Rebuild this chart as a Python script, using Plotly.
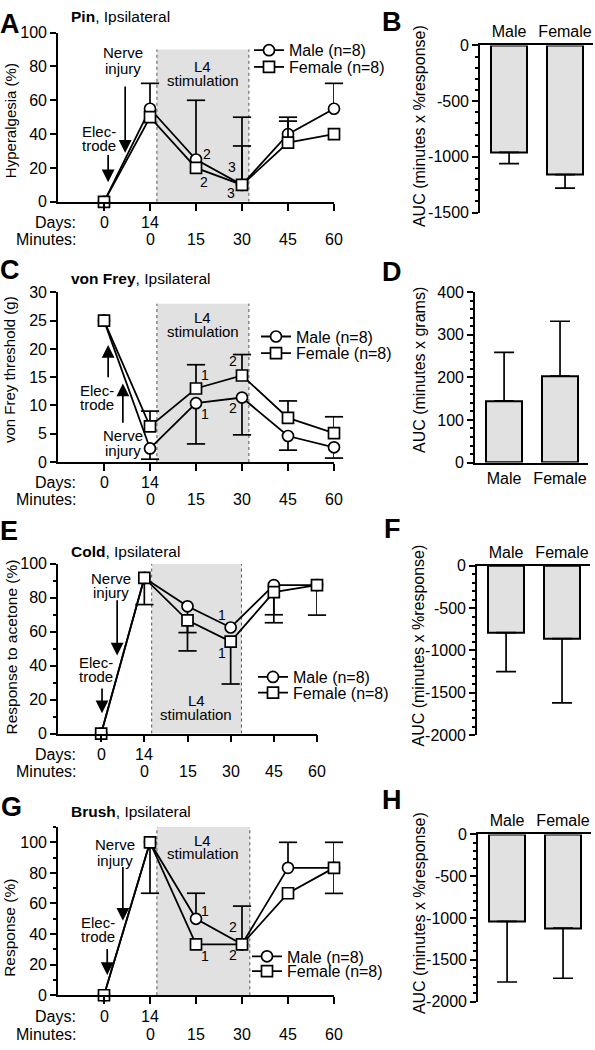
import plotly.graph_objects as go

W, H = 595, 1050
FONT = "Liberation Sans, Arial, Helvetica, sans-serif"

# ---------------- data ----------------
time_idx = [0, 1, 2, 3, 4, 5]          # Day0, Day14/min0, 15, 30, 45, 60 min
day_idx = [0, 1]
day_labels = ["0", "14"]
minute_idx = [1, 2, 3, 4, 5]
minute_labels = ["0", "15", "30", "45", "60"]
sex_labels = ["Male", "Female"]
legend_names = ["Male (n=8)", "Female (n=8)"]

# A  Pin (% hyperalgesia)
pin_male = [0, 55, 25, 10, 40, 55]
pin_male_up = [0, 15, 35, 40, 10, 15]
pin_male_dn = [0, 0, 0, 0, 0, 0]
pin_female = [0, 50, 20, 10, 35, 40]
pin_female_up = [0, 0, 0, 23, 12.7, 0]
pin_female_dn = [0, 0, 0, 0, 0, 0]

# C  von Frey threshold (g)
vf_male = [25, 2.4, 10.4, 11.4, 4.6, 2.6]
vf_male_up = [0, 0, 0, 0, 0, 0]
vf_male_dn = [0, 1.9, 7.2, 6.6, 2.5, 1.9]
vf_female = [25, 6.3, 13.0, 15.3, 7.8, 5.1]
vf_female_up = [0, 2.7, 4.2, 3.7, 3.0, 2.9]
vf_female_dn = [0, 0, 0, 0, 0, 0]

# E  Cold (response to acetone %)
cold_male = [0, 91.7, 75, 62.5, 87.5, 87.5]
cold_male_up = [0, 0, 0, 0, 0, 0]
cold_male_dn = [0, 0, 15.5, 0, 17.5, 0]
cold_female = [0, 91.7, 66.7, 54.2, 83.3, 87.5]
cold_female_up = [0, 0, 0, 0, 0, 0]
cold_female_dn = [0, 15.7, 18, 25, 18, 17.7]

# G  Brush (response %)
brush_male = [0, 100, 50, 33.3, 83.3, 83.3]
brush_male_up = [0, 0, 16.7, 25, 16.7, 16.7]
brush_male_dn = [0, 33.3, 0, 0, 0, 0]
brush_female = [0, 100, 33.3, 33.3, 66.7, 83.3]
brush_female_up = [0, 0, 0, 0, 0, 0]
brush_female_dn = [0, 0, 0, 0, 0, 16.7]

# AUC bars (Male, Female) and one-sided SD
pin_auc = [-960, -1160]
pin_auc_err = [100, 120]
vf_auc = [145, 203]
vf_auc_err = [114, 129]
cold_auc = [-790, -860]
cold_auc_err = [460, 760]
brush_auc = [-1040, -1120]
brush_auc_err = [725, 600]

# y tick labels for AUC panels (hyphen minus as in original)
auc_pin_ticks = [0, -500, -1000, -1500]
auc_pin_ticktext = ["0", "-500", "-1000", "-1500"]
auc_2000_ticks = [0, -500, -1000, -1500, -2000]
auc_2000_ticktext = ["0", "-500", "-1000", "-1500", "-2000"]
auc_vf_ticks = [0, 100, 200, 300, 400]
auc_vf_ticktext = ["0", "100", "200", "300", "400"]

# ---------------- helpers ----------------
fig = go.Figure()


def xdom(a, b):
    return [a / W, b / W]


def ydom(top, bottom):
    return [1 - bottom / H, 1 - top / H]


def py(p):
    return 1 - p / H


def px(p):
    return p / W


def txt(xref, yref, x, y, s, size=15, xanchor="center", yshift=0, angle=0):
    fig.add_annotation(xref=xref, yref=yref, x=x, y=y, text=s, showarrow=False,
                       font=dict(size=size, family=FONT, color="black"),
                       xanchor=xanchor, yanchor="middle", yshift=yshift,
                       textangle=angle, borderpad=0)


def multiline(xref, yref, x, y, lines, gap=15, size=15):
    n = len(lines)
    for k, s in enumerate(lines):
        txt(xref, yref, x, y, s, size=size, yshift=((n - 1) / 2 - k) * gap)


def arrow(xref, yref, x, tip, tail):
    fig.add_annotation(xref=xref, yref=yref, axref=xref, ayref=yref,
                       x=x, y=tip, ax=x, ay=tail, text="", showarrow=True,
                       arrowhead=2, arrowsize=1.5, arrowwidth=1.7,
                       arrowcolor="black")


AX = dict(showline=True, linecolor="black", linewidth=1.6, showgrid=False,
          zeroline=False, tickcolor="black", tickwidth=1.6,
          tickfont=dict(size=16, family=FONT, color="black"), fixedrange=True)

LEG = dict(xanchor="left", yanchor="middle", bgcolor="rgba(0,0,0,0)",
           font=dict(size=16, family=FONT, color="black"), itemwidth=30,
           tracegroupgap=0)


def line_panel(n, xd, yd, yrange, dtick, minor, series, legends,
               shade, days_rows):
    xa = "x" if n == 1 else f"x{n}"
    ya = "y" if n == 1 else f"y{n}"
    xk = "xaxis" if n == 1 else f"xaxis{n}"
    yk = "yaxis" if n == 1 else f"yaxis{n}"
    fig.update_layout({
        xk: dict(AX, domain=xdom(*xd), range=[-1, 5], anchor=ya,
                 ticks="outside", ticklen=7, tickmode="array",
                 tickvals=time_idx, showticklabels=False),
        yk: dict(AX, domain=ydom(*yd), range=yrange, anchor=xa,
                 ticks="outside", ticklen=6, dtick=dtick, tick0=0,
                 minor=(dict(dtick=minor, ticks="outside", ticklen=3.5,
                             tickwidth=1.5, tickcolor="black")
                        if minor else None)),
    })
    # stimulation window
    s0, s1, stop = shade
    fig.add_shape(type="rect", xref=xa, yref=ya, x0=s0, x1=s1, y0=0, y1=stop,
                  fillcolor="#e1e1e1", line_width=0, layer="below")
    for sx in (s0, s1):
        fig.add_shape(type="line", xref=xa, yref=ya, x0=sx, x1=sx, y0=0,
                      y1=stop, line=dict(color="#555", width=1, dash="dot"),
                      layer="below")
    # caps first
    for vals, up, dn, sym, name in series:
        cx, cy = [], []
        for i, v in enumerate(vals):
            if up[i] > 0:
                cx.append(time_idx[i]); cy.append(v + up[i])
            if dn[i] > 0:
                cx.append(time_idx[i]); cy.append(v - dn[i])
        fig.add_trace(go.Scatter(x=cx, y=cy, mode="markers", xaxis=xa,
                                 yaxis=ya, showlegend=False, hoverinfo="skip",
                                 cliponaxis=False,
                                 marker=dict(symbol="line-ew", size=13,
                                             line=dict(width=1.7,
                                                       color="black"))))
    for (vals, up, dn, sym, name), (lkey, lx, ly) in zip(series, legends):
        fig.add_trace(go.Scatter(
            x=time_idx, y=vals, mode="lines+markers", name=name,
            xaxis=xa, yaxis=ya, legend=lkey, cliponaxis=False,
            line=dict(color="black", width=1.8),
            marker=dict(symbol=sym, size=11, color="white",
                        line=dict(color="black", width=1.7)),
            error_y=dict(type="data", symmetric=False, array=up,
                         arrayminus=dn, width=0, thickness=1.7,
                         color="black")))
        fig.update_layout({lkey: dict(LEG, x=px(lx), y=py(ly))})
    # day / minute labels
    drow, mrow = days_rows
    txt("paper", "paper", px(77), py(drow), "Days:", size=16, xanchor="right")
    txt("paper", "paper", px(77), py(mrow), "Minutes:", size=16,
        xanchor="right")
    for xi, s in zip(day_idx, day_labels):
        txt(xa, "paper", xi, py(drow), s, size=16)
    for xi, s in zip(minute_idx, minute_labels):
        txt(xa, "paper", xi, py(mrow), s, size=16)
    return xa, ya


def bar_panel(n, xd, yd, yrange, vals, err, tickvals, ticktext, minor, top):
    xa, ya = f"x{n}", f"y{n}"
    fig.update_layout({
        f"xaxis{n}": dict(AX, domain=xdom(*xd), range=[-0.52, 1.5],
                          anchor=ya, type="category",
                          side="top" if top else "bottom", ticks=""),
        f"yaxis{n}": dict(AX, domain=ydom(*yd), range=yrange, anchor=xa,
                          ticks="outside", ticklen=6, tickmode="array",
                          tickvals=tickvals, ticktext=ticktext,
                          minor=dict(tickmode="linear", tick0=0, dtick=minor,
                                     ticks="outside", ticklen=3.5,
                                     tickwidth=1.5, tickcolor="black")),
    })
    neg = vals[0] < 0
    fig.add_trace(go.Bar(
        x=sex_labels, y=vals, xaxis=xa, yaxis=ya, width=0.64,
        showlegend=False, hoverinfo="skip",
        marker=dict(color="#e1e1e1", line=dict(color="black", width=2)),
        error_y=dict(type="data", symmetric=False,
                     array=[0, 0] if neg else err,
                     arrayminus=err if neg else [0, 0],
                     width=10, thickness=1.7, color="black")))
    return xa, ya


# ---------------- panel A ----------------
xa, ya = line_panel(
    1, (58, 334), (25, 197), [0, 100], 20, None,
    [(pin_male, pin_male_up, pin_male_dn, "circle", legend_names[0]),
     (pin_female, pin_female_up, pin_female_dn, "square", legend_names[1])],
    [("legend", 249, 43), ("legend2", 249, 60)],
    (1.15, 3.15, 90), (218, 235))
multiline(xa, ya, 0.41, 83.5, ["Nerve", "injury"], gap=16)
arrow(xa, ya, 0.46, 29, 69)
multiline(xa, ya, -0.11, 37.5, ["Elec-", "trode"], gap=14)
arrow(xa, ya, 0.09, 11.5, 28.5)
multiline(xa, ya, 2.15, 76, ["L4", "stimulation"], gap=14)
txt(xa, ya, 2.24, 28, "2", size=14)
txt(xa, ya, 2.17, 12, "2", size=14)
txt(xa, ya, 2.78, 20.5, "3", size=14)
txt(xa, ya, 2.76, 5, "3", size=14)

# ---------------- panel C ----------------
xa, ya = line_panel(
    3, (58, 334), (289, 461.5), [0, 30], 5, None,
    [(vf_male, vf_male_up, vf_male_dn, "circle", legend_names[0]),
     (vf_female, vf_female_up, vf_female_dn, "square", legend_names[1])],
    [("legend3", 256, 334), ("legend4", 256, 351)],
    (1.15, 3.15, 28), (482, 500))
multiline(xa, ya, -0.15, 11.4, ["Elec-", "trode"], gap=14)
arrow(xa, ya, 0.09, 20.7, 14.7)
multiline(xa, ya, 0.41, 3.4, ["Nerve", "injury"], gap=15)
arrow(xa, ya, 0.41, 13.9, 6.7)
multiline(xa, ya, 2.15, 24.4, ["L4", "stimulation"], gap=14)
txt(xa, ya, 2.19, 15.3, "1", size=14)
txt(xa, ya, 2.19, 8.5, "1", size=14)
txt(xa, ya, 2.8, 17.9, "2", size=14)
txt(xa, ya, 2.8, 9.5, "2", size=14)

# ---------------- panel E ----------------
xa, ya = line_panel(
    5, (58, 317), (565, 737.5), [0, 100], 20, 10,
    [(cold_male, cold_male_up, cold_male_dn, "circle", legend_names[0]),
     (cold_female, cold_female_up, cold_female_dn, "square", legend_names[1])],
    [("legend5", 253, 680), ("legend6", 253, 696)],
    (1.17, 3.25, 100), (759, 776))
multiline(xa, ya, 0.23, 87, ["Nerve", "injury"], gap=14)
arrow(xa, ya, 0.37, 46, 79.4)
multiline(xa, ya, -0.12, 38, ["Elec-", "trode"], gap=14)
arrow(xa, ya, 0.02, 12, 27.5)
multiline(xa, ya, 2.2, 15.4, ["L4", "stimulation"], gap=14)
txt(xa, ya, 2.79, 69.6, "1", size=14)
txt(xa, ya, 2.79, 47.5, "1", size=14)

# ---------------- panel G ----------------
xa, ya = line_panel(
    7, (58, 334), (832.5, 1003.5), [0, 110], 20, 10,
    [(brush_male, brush_male_up, brush_male_dn, "circle", legend_names[0]),
     (brush_female, brush_female_up, brush_female_dn, "square",
      legend_names[1])],
    [("legend7", 247, 964), ("legend8", 247, 979)],
    (1.15, 3.17, 110), (1025, 1043))
multiline(xa, ya, 0.24, 93.5, ["Nerve", "injury"], gap=16)
arrow(xa, ya, 0.41, 48.7, 84.8)
multiline(xa, ya, -0.13, 43, ["Elec-", "trode"], gap=14)
arrow(xa, ya, 0.07, 13.2, 31.3)
multiline(xa, ya, 2.15, 97, ["L4", "stimulation"], gap=13)
txt(xa, ya, 2.19, 55.2, "1", size=14)
txt(xa, ya, 2.19, 25.5, "1", size=14)
txt(xa, ya, 2.8, 44.8, "2", size=14)
txt(xa, ya, 2.8, 26.1, "2", size=14)

# ---------------- bar panels ----------------
bar_panel(2, (480, 593), (38, 208), [-1500, 0], pin_auc, pin_auc_err,
          auc_pin_ticks, auc_pin_ticktext, 100, True)
bar_panel(4, (475, 588), (289, 462), [0, 400], vf_auc, vf_auc_err,
          auc_vf_ticks, auc_vf_ticktext, 20, False)
bar_panel(6, (477, 590), (567, 739), [-2000, 0], cold_auc, cold_auc_err,
          auc_2000_ticks, auc_2000_ticktext, 100, True)
bar_panel(8, (478, 591), (840, 1010), [-2000, 0], brush_auc, brush_auc_err,
          auc_2000_ticks, auc_2000_ticktext, 100, True)

# ---------------- titles, letters, axis titles ----------------
for letter, x, y in [("A", 10, 16), ("B", 392, 14), ("C", 10, 266),
                     ("D", 392, 268), ("E", 9, 532), ("F", 392, 530),
                     ("G", 11, 812), ("H", 392, 805)]:
    txt("paper", "paper", px(x), py(y), f"<b>{letter}</b>", size=27)

for s, y in [("<b>Pin</b>, Ipsilateral", 9), ("<b>von Frey</b>, Ipsilateral", 275),
             ("<b>Cold</b>, Ipsilateral", 552), ("<b>Brush</b>, Ipsilateral", 817)]:
    txt("paper", "paper", px(70), py(y), s, size=15.5, xanchor="left")

for s, x, y, fs in [("Hyperalgesia (%)", 10, 115, 15),
                    ("von Frey threshold (g)", 9, 368, 15),
                    ("Response to acetone (%)", 11, 650, 15.5),
                    ("Response (%)", 10, 935, 15.5),
                    ("AUC (minutes x %response)", 419, 120, 16),
                    ("AUC (minutes x grams)", 419, 368, 16),
                    ("AUC (minutes x %response)", 419, 648, 16),
                    ("AUC (minutes x %response)", 419, 920, 16)]:
    txt("paper", "paper", px(x), py(y), s, size=fs, angle=-90)

fig.update_layout(width=W, height=H, autosize=False,
                  margin=dict(l=0, r=0, t=0, b=0),
                  paper_bgcolor="white", plot_bgcolor="rgba(0,0,0,0)",
                  font=dict(family=FONT, color="black"),
                  hovermode=False, bargap=0)

fig.write_html("out.html", config={"displayModeBar": False},
               post_script="document.body.style.margin='0';"
                           "document.body.style.overflow='hidden';")
